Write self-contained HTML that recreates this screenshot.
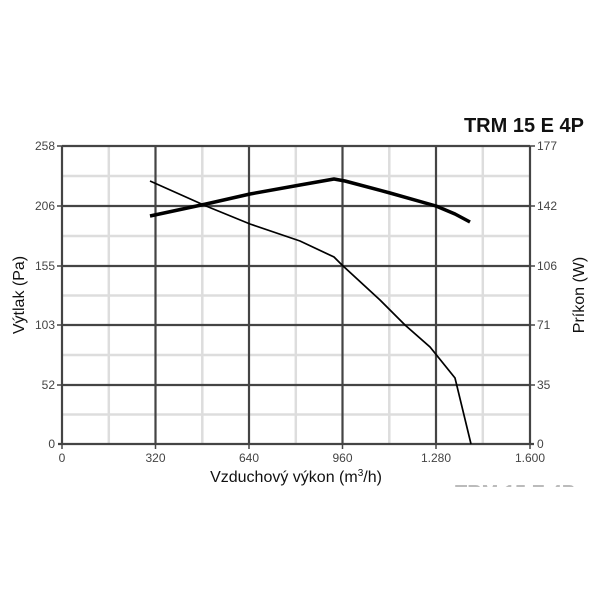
<!DOCTYPE html>
<html><head><meta charset="utf-8"><style>
body{margin:0;background:#fff;width:600px;height:600px;overflow:hidden;position:relative;font-family:"Liberation Sans",sans-serif}
.clip{position:absolute;left:455px;top:482px;width:135px;height:5px;overflow:hidden}
.clip div{font:bold 20px "Liberation Sans",sans-serif;color:#bbb;margin-top:0px}
</style></head><body>
<svg width="600" height="600" style="position:absolute;left:0;top:0" font-family="Liberation Sans, sans-serif">
<g stroke="#ddd" stroke-width="2.5">
<line x1="108.8" y1="146" x2="108.8" y2="444"/><line x1="202.3" y1="146" x2="202.3" y2="444"/>
<line x1="295.8" y1="146" x2="295.8" y2="444"/><line x1="389.3" y1="146" x2="389.3" y2="444"/>
<line x1="482.8" y1="146" x2="482.8" y2="444"/>
<line x1="62" y1="176" x2="530" y2="176"/><line x1="62" y1="236" x2="530" y2="236"/>
<line x1="62" y1="295.5" x2="530" y2="295.5"/><line x1="62" y1="355" x2="530" y2="355"/>
<line x1="62" y1="414.5" x2="530" y2="414.5"/>
</g>
<g stroke="#444" stroke-width="2.2">
<line x1="155.5" y1="146" x2="155.5" y2="444"/><line x1="249" y1="146" x2="249" y2="444"/>
<line x1="342.5" y1="146" x2="342.5" y2="444"/><line x1="436" y1="146" x2="436" y2="444"/>
<line x1="62" y1="206" x2="530" y2="206"/><line x1="62" y1="266" x2="530" y2="266"/>
<line x1="62" y1="325" x2="530" y2="325"/><line x1="62" y1="385" x2="530" y2="385"/>
<line x1="62" y1="146" x2="530" y2="146"/>
<line x1="62" y1="146" x2="62" y2="444"/><line x1="530" y1="146" x2="530" y2="444"/>
<line x1="58" y1="444" x2="534" y2="444"/>
</g>
<g stroke="#444" stroke-width="1.5">
<line x1="57" y1="146" x2="62" y2="146"/><line x1="57" y1="206" x2="62" y2="206"/><line x1="57" y1="266" x2="62" y2="266"/><line x1="57" y1="325" x2="62" y2="325"/><line x1="57" y1="385" x2="62" y2="385"/>
<line x1="530" y1="146" x2="535" y2="146"/><line x1="530" y1="206" x2="535" y2="206"/><line x1="530" y1="266" x2="535" y2="266"/><line x1="530" y1="325" x2="535" y2="325"/><line x1="530" y1="385" x2="535" y2="385"/>
<line x1="62" y1="444" x2="62" y2="449"/><line x1="155.5" y1="444" x2="155.5" y2="449"/><line x1="249" y1="444" x2="249" y2="449"/><line x1="342.5" y1="444" x2="342.5" y2="449"/><line x1="436" y1="444" x2="436" y2="449"/><line x1="530" y1="444" x2="530" y2="449"/>
</g>
<g font-size="12" fill="#444" text-anchor="end">
<text x="55" y="150">258</text><text x="55" y="210">206</text><text x="55" y="270">155</text><text x="55" y="329">103</text><text x="55" y="389">52</text><text x="55" y="448">0</text>
</g>
<g font-size="12" fill="#444">
<text x="537" y="150">177</text><text x="537" y="210">142</text><text x="537" y="270">106</text><text x="537" y="329">71</text><text x="537" y="389">35</text><text x="537" y="448">0</text>
</g>
<g font-size="12" fill="#444" text-anchor="middle">
<text x="62" y="462">0</text><text x="155.5" y="462">320</text><text x="249" y="462">640</text><text x="342.5" y="462">960</text><text x="436" y="462">1.280</text><text x="530" y="462">1.600</text>
</g>
<text x="296" y="482" font-size="16" text-anchor="middle" fill="#111">Vzduchový výkon (m<tspan dy="-6" font-size="10">3</tspan><tspan dy="6">/h)</tspan></text>
<text transform="translate(24,295) rotate(-90)" font-size="16" text-anchor="middle" fill="#111">Výtlak (Pa)</text>
<text transform="translate(584,295) rotate(-90)" font-size="16" text-anchor="middle" fill="#111">Príkon (W)</text>
<text x="584" y="132" font-size="20" font-weight="bold" text-anchor="end" fill="#111">TRM 15 E 4P</text>
<polyline fill="none" stroke="#000" stroke-width="1.7" points="150,181 206,206 250,224 300,241 334,257 342,265 380,300 405,325 430,347 455,378 471,444"/>
<polyline fill="none" stroke="#000" stroke-width="3.5" stroke-linejoin="round" points="150,216 206,204 250,194 300,185 334,179 345,181 390,193 436,206 455,214 470,222"/>
</svg>
<div class="clip"><div>TRM 15 E 4P</div></div>
</body></html>
